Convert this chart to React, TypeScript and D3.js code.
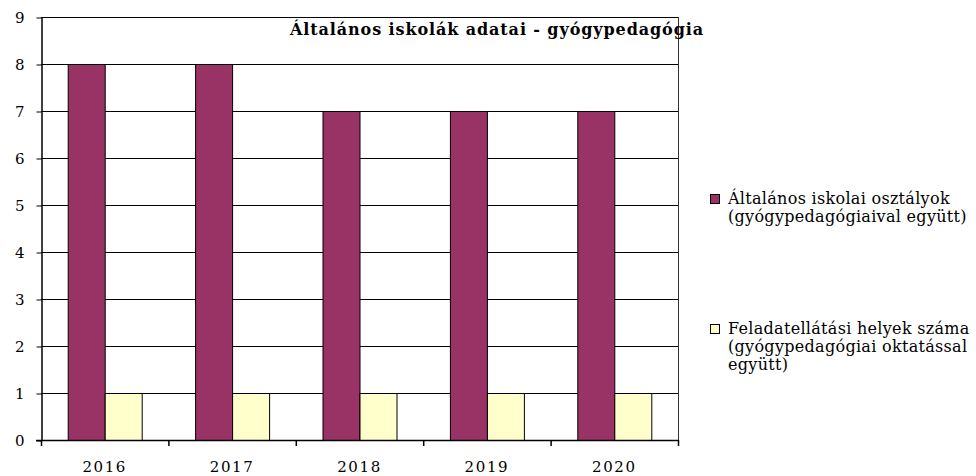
import React, { useEffect, useRef } from "react";
import * as d3 from "d3";

const years = ["2016", "2017", "2018", "2019", "2020"];
const classes = [8, 8, 7, 7, 7];
const sites = [1, 1, 1, 1, 1];
const seriesNames = [
  ["Általános iskolai osztályok", "(gyógypedagógiaival együtt)"],
  ["Feladatellátási helyek száma", "(gyógypedagógiai oktatással", "együtt)"],
];
const colors = ["#993366", "#FFFFCC"];
const yTicks = [0, 1, 2, 3, 4, 5, 6, 7, 8, 9];
const title = "Általános iskolák adatai - gyógypedagógia";

const font = "'DejaVu Serif', Georgia, serif";

export default function App() {
  const ref = useRef<SVGSVGElement>(null);

  useEffect(() => {
    const svg = d3.select(ref.current);
    svg.selectAll("*").remove();

    const left = 41;
    const right = 678;
    const top = 17;
    const bottom = 440;

    const x = d3.scaleBand().domain(years).range([left, right]);
    const y = d3.scaleLinear().domain([0, 9]).range([bottom, top]);
    const barW = 37;

    // grid lines
    svg
      .append("g")
      .selectAll("line")
      .data(yTicks.filter((d) => d > 0))
      .enter()
      .append("line")
      .attr("x1", left)
      .attr("x2", right)
      .attr("y1", (d) => y(d) + 0.5)
      .attr("y2", (d) => y(d) + 0.5)
      .attr("stroke", "#000")
      .attr("stroke-width", 1);

    // right border
    svg
      .append("line")
      .attr("x1", right + 0.5)
      .attr("x2", right + 0.5)
      .attr("y1", top)
      .attr("y2", bottom)
      .attr("stroke", "#333");

    const data = years.map((yr, i) => ({ yr, vals: [classes[i], sites[i]] }));

    data.forEach((d) => {
      d.vals.forEach((v, j) => {
        const cx = (x(d.yr) as number) + x.bandwidth() / 2;
        svg
          .append("rect")
          .attr("x", cx - barW + j * barW + 0.5)
          .attr("y", y(v) + 0.5)
          .attr("width", barW)
          .attr("height", bottom - y(v))
          .attr("fill", colors[j])
          .attr("stroke", "#000")
          .attr("stroke-width", 1);
      });
    });

    // y axis
    const yAxis = svg
      .append("g")
      .attr("transform", `translate(${left + 0.5},0.5)`)
      .call(d3.axisLeft(y).tickValues(yTicks).tickSize(5).tickSizeOuter(0).tickPadding(12));
    yAxis.select(".domain").attr("stroke", "#000").attr("stroke-width", 1.5);
    yAxis
      .selectAll("text")
      .attr("font-family", font)
      .attr("font-size", 15)
      .attr("fill", "#000");

    // x axis
    const xAxis = svg
      .append("g")
      .attr("transform", `translate(0,${bottom + 0.5})`)
      .call(d3.axisBottom(x).tickSize(0).tickPadding(21));
    xAxis.select(".domain").remove();
    xAxis
      .selectAll("text")
      .attr("font-family", font)
      .attr("font-size", 15)
      .attr("letter-spacing", 1.6)
      .attr("fill", "#000");
    svg
      .append("line")
      .attr("x1", left - 5)
      .attr("x2", right)
      .attr("y1", bottom + 0.5)
      .attr("y2", bottom + 0.5)
      .attr("stroke", "#000")
      .attr("stroke-width", 1.5);
    svg
      .append("g")
      .selectAll("line")
      .data([...years.map((yr) => x(yr) as number), right])
      .enter()
      .append("line")
      .attr("x1", (d) => d + 0.5)
      .attr("x2", (d) => d + 0.5)
      .attr("y1", bottom)
      .attr("y2", bottom + 6)
      .attr("stroke", "#000")
      .attr("stroke-width", 1.5);

    // title
    svg
      .append("text")
      .attr("x", 497)
      .attr("y", 35)
      .attr("text-anchor", "middle")
      .attr("font-family", font)
      .attr("font-weight", "bold")
      .attr("font-size", 16)
      .attr("letter-spacing", 0.9)
      .attr("fill", "#000")
      .text(title);

    // legend
    const legendY = [204, 334];
    seriesNames.forEach((lines, i) => {
      const g = svg.append("g");
      g.append("rect")
        .attr("x", 710.5)
        .attr("y", legendY[i] - 9.5)
        .attr("width", 9)
        .attr("height", 9)
        .attr("fill", colors[i])
        .attr("stroke", "#000");
      lines.forEach((t, k) => {
        g.append("text")
          .attr("x", 728)
          .attr("y", legendY[i] + k * 18)
          .attr("font-family", font)
          .attr("font-size", 16)
          .attr("letter-spacing", 0.3)
          .attr("fill", "#000")
          .text(t);
      });
    });
  }, []);

  return (
    <svg
      ref={ref}
      width={976}
      height={476}
      style={{ position: "absolute", left: 0, top: 0, background: "#fff" }}
    />
  );
}
